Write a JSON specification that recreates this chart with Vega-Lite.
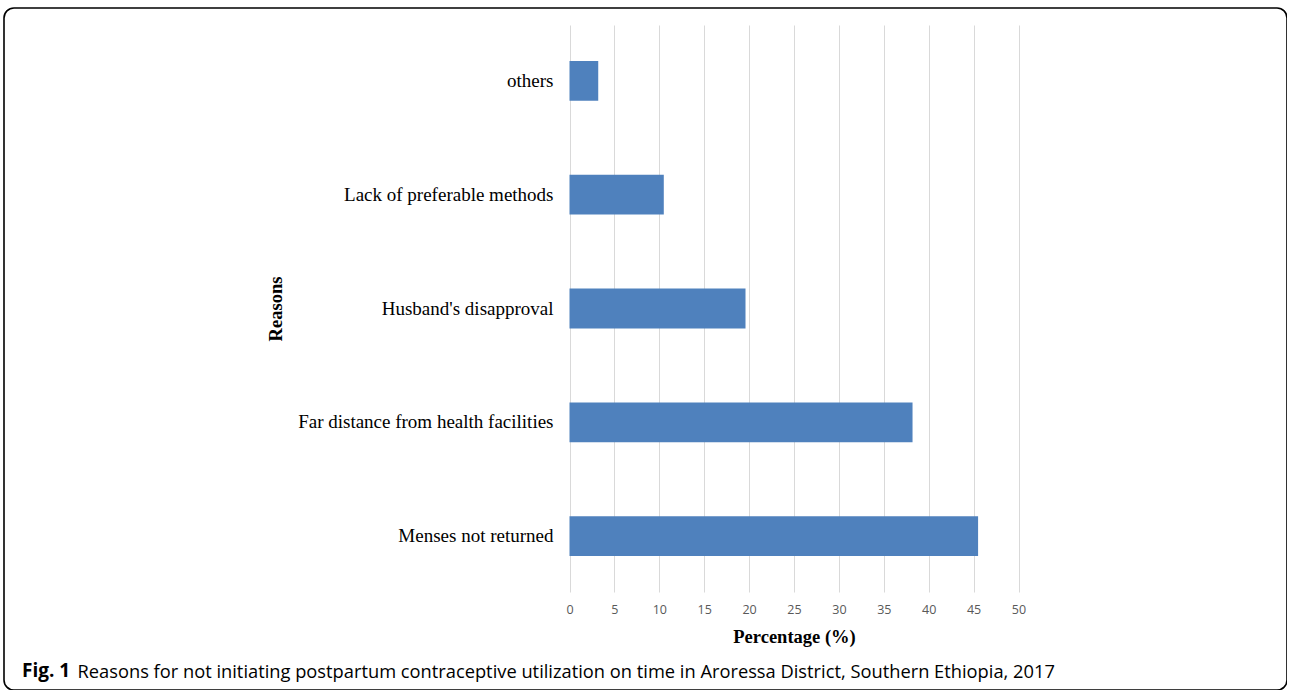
{
  "$schema": "https://vega.github.io/schema/vega-lite/v6.json",
  "width": 1283,
  "height": 682,
  "autosize": {"type": "none"},
  "padding": {"left": 4, "top": 8, "right": 0, "bottom": 0},
  "background": "white",
  "config": {"view": {"stroke": "#000000", "strokeWidth": 1.6, "cornerRadius": 10, "fill": "white"}},
  "title": {"text": "Fig. 1", "orient": "bottom", "anchor": "start", "frame": "group", "offset": -13, "dx": 18, "baseline": "alphabetic", "font": "Open Sans", "fontSize": 19, "fontWeight": "bold", "color": "#000000"},
  "data": {"values": [
    {"reason": "others", "pct": 3.2},
    {"reason": "Lack of preferable methods", "pct": 10.5},
    {"reason": "Husband's disapproval", "pct": 19.6},
    {"reason": "Far distance from health facilities", "pct": 38.2},
    {"reason": "Menses not returned", "pct": 45.5}
  ]},
  "layer": [
    {
      "mark": {"type": "bar", "color": "#4f81bd"},
      "encoding": {
        "y": {"field": "reason", "type": "nominal",
          "sort": ["others", "Lack of preferable methods", "Husband's disapproval", "Far distance from health facilities", "Menses not returned"],
          "scale": {"range": [17, 584], "paddingInner": 0.65, "paddingOuter": 0.316},
          "axis": {"orient": "left", "offset": -559, "domain": false, "ticks": false, "tickSize": 0, "grid": false, "labelPadding": 10, "labelFont": "Liberation Serif", "labelFontSize": 19, "labelColor": "#000000", "labelLimit": 400, "title": "Reasons", "titleFont": "Liberation Serif", "titleFontSize": 18.5, "titleFontWeight": "bold", "titleColor": "#000000", "titleX": -288, "titleBaseline": "middle", "titleAlign": "center", "titleAngle": -90}},
        "x": {"field": "pct", "type": "quantitative",
          "scale": {"domain": [0, 50], "range": [565.5, 1014.5], "nice": false, "zero": true},
          "axis": {"orient": "bottom", "offset": -98, "values": [0, 5, 10, 15, 20, 25, 30, 35, 40, 45, 50], "domain": false, "grid": false, "ticks": true, "tickSize": -567, "tickColor": "#d9d9d9", "tickWidth": 1, "labelPadding": 578, "labelFlush": false, "labelFont": "Open Sans", "labelFontSize": 12.5, "labelColor": "#595959", "title": "Percentage (%)", "titleFont": "Liberation Serif", "titleFontSize": 18.5, "titleFontWeight": "bold", "titleColor": "#000000", "titleY": 44, "titleBaseline": "middle"}}
      }
    },
    {
      "mark": {"type": "bar", "opacity": 0},
      "encoding": {
        "y": {"field": "reason", "type": "nominal",
          "sort": ["others", "Lack of preferable methods", "Husband's disapproval", "Far distance from health facilities", "Menses not returned"],
          "scale": {"range": [17, 584], "paddingInner": 0.65, "paddingOuter": 0.316},
          "axis": {"orient": "left", "offset": -559, "domain": false, "ticks": false, "tickSize": 0, "grid": false, "labelPadding": 10, "labelFont": "Liberation Serif", "labelFontSize": 19, "labelColor": "#000000", "labelLimit": 400, "title": "Reasons", "titleFont": "Liberation Serif", "titleFontSize": 18.5, "titleFontWeight": "bold", "titleColor": "#000000", "titleX": -288, "titleBaseline": "middle", "titleAlign": "center", "titleAngle": -90}},
        "x": {"field": "pct", "type": "quantitative",
          "scale": {"domain": [0, 50], "range": [565.5, 1014.5], "nice": false, "zero": true},
          "axis": {"orient": "bottom", "offset": -98, "domain": false, "grid": false, "ticks": false, "labels": false, "title": "Reasons for not initiating postpartum contraceptive utilization on time in Aroressa District, Southern Ethiopia, 2017", "titleFont": "Open Sans", "titleFontSize": 18.3, "titleFontWeight": "normal", "titleColor": "#000000", "titleX": 73, "titleY": 85, "titleAnchor": "start", "titleAlign": "left", "titleBaseline": "alphabetic", "titleLimit": 1200}}
      }
    }
  ],
  "resolve": {"scale": {"x": "independent"}, "axis": {"x": "independent"}}
}
